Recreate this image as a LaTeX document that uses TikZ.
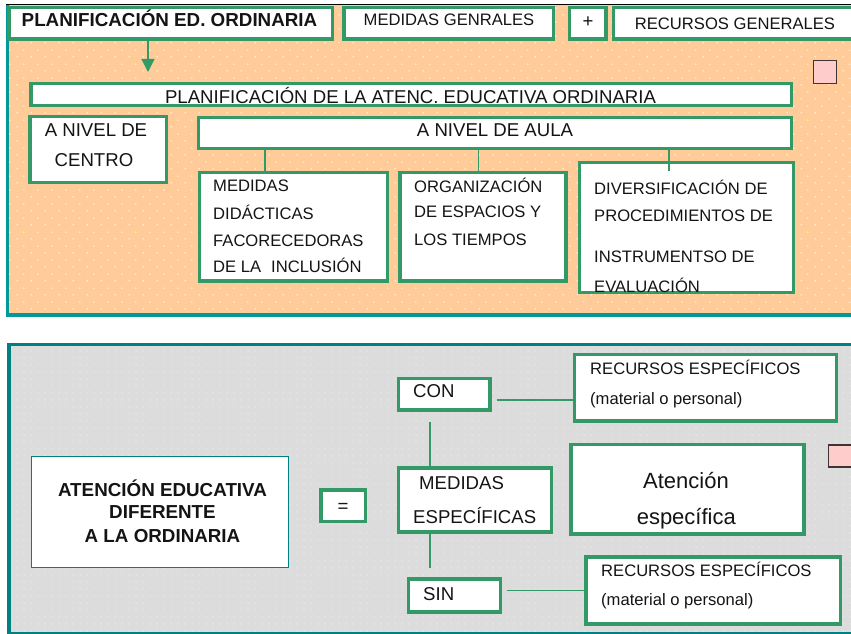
\documentclass[tikz,border=0pt]{standalone}
\usepackage{fontspec}
\setmainfont{Liberation Sans}
\usetikzlibrary{patterns.meta,arrows.meta,fit}
\definecolor{gr}{HTML}{339966}
\definecolor{tealA}{HTML}{009999}
\definecolor{tealB}{HTML}{008080}
\definecolor{orng}{HTML}{FFCC99}
\definecolor{dotO}{HTML}{FFF0E2}
\definecolor{gry}{HTML}{DCDCDC}
\definecolor{dotG}{HTML}{F2F2F2}
\definecolor{pnk}{HTML}{FFCCCC}
\definecolor{pbd}{HTML}{403333}
\definecolor{txc}{HTML}{141414}
\tikzdeclarepattern{
  name=odots,
  bounding box={(0pt,0pt) and (14pt,14pt)},
  tile size={(14pt,14pt)},
  code={
    \fill (3.5pt,3.5pt) circle (0.9pt);
    \fill (10.5pt,10.5pt) circle (0.9pt);
  }
}
\tikzdeclarepattern{
  name=gdots,
  bounding box={(0pt,0pt) and (7pt,7pt)},
  tile size={(7pt,7pt)},
  code={
    \fill (3.5pt,3.5pt) circle (0.7pt);
  }
}
\begin{document}
\begin{tikzpicture}[x=1pt,y=-1pt,
  gbox/.style={draw=gr, line width=3.5pt, fill=white, inner sep=0pt},
  tbox/.style={draw=tealB, line width=1.2pt, fill=white, inner sep=0pt},
  pbox/.style={draw=pbd, line width=1.5pt, fill=pnk, inner sep=0pt},
  conn/.style={draw=gr, line width=1.3pt},
  t/.style={font=\fontsize{16.6}{20}\selectfont, text height=12pt, text depth=0pt, inner sep=0pt, text=txc},
  tl/.style={t, anchor=west},
  tm/.style={t, font=\fontsize{18.6}{22}\selectfont},
  tml/.style={tm, anchor=west},
  tb/.style={t, font=\fontsize{18.8}{22}\selectfont\bfseries},
  tbig/.style={t, font=\fontsize{22}{26}\selectfont}
]
\useasboundingbox (0,0) rectangle (851,634);
\clip (0,0) rectangle (851,634);
\fill[white] (0,0) rectangle (851,634);
% ---------- top panel ----------
\fill[orng] (6,4.5) rectangle (851,317);
\fill[pattern=odots, pattern color=dotO] (6,4.5) rectangle (851,317);
\draw[tealA, line width=3pt] (7.5,4.5) -- (7.5,314.5);
\draw[tealA, line width=4.5pt] (6,314.8) -- (851,314.8);
\draw[black, line width=1.2pt] (6,4.5) -- (851,4.5);
% ---------- bottom panel ----------
\fill[gry] (7.3,342.7) rectangle (851,634);
\fill[pattern=gdots, pattern color=dotG] (7.3,342.7) rectangle (851,634);
\draw[tealB, line width=3pt] (7.3,344.2) -- (851,344.2);
\draw[tealB, line width=4pt] (9.3,342.7) -- (9.3,634);
\draw[tealB, line width=2pt] (7.3,632.8) -- (851,632.8);
% ---------- coordinates ----------
\coordinate (arrtip) at (148,72);
\coordinate (x1) at (265,0);
\coordinate (x2) at (478.3,0);
\coordinate (x3) at (669,0);
\coordinate (xv) at (430,0);
\coordinate (ycon) at (0,400);
\coordinate (ysin) at (0,590.7);
% ---------- top boxes ----------
\node[gbox, fit={(8.8,7.7) (332.5,38.8)}] (pla) {};
\node[gbox, fit={(344,7.7) (553.3,38.8)}] (med) {};
\node[gbox, fit={(569.4,7.7) (606,38.8)}] (plus) {};
\node[gbox, fit={(613.4,7.7) (853,38.8)}] (rg) {};
\node[gbox, fit={(31,83.5) (791.6,105.5)}] (atc) {};
\node[gbox, fit={(30,116.7) (166.6,182.6)}] (cen) {};
\node[gbox, fit={(198.4,117.7) (791.6,148.3)}] (aula) {};
\node[gbox, fit={(199.4,172.7) (387.6,281)}] (mdi) {};
\node[gbox, fit={(400,172.7) (566,281)}] (org) {};
\node[gbox, fit={(579.4,162.7) (793.3,292.6)}] (div) {};
\node[pbox, fit={(813.7,60.7) (836.3,83.3)}] (pk1) {};
% ---------- top connectors ----------
\draw[conn, -{Triangle[width=13pt,length=13pt]}] (pla.south -| arrtip) -- (arrtip);
\draw[conn] (aula.south -| x1) -- (mdi.north -| x1);
\draw[conn] (aula.south -| x2) -- (org.north -| x2);
\draw[conn, shorten >=-10pt] (aula.south -| x3) -- (div.north -| x3);
% ---------- top texts ----------
\node[tb] (tpla) at (169.5,21) {PLANIFICACIÓN ED. ORDINARIA};
\node[t] (tmed) at (449,19.5) {MEDIDAS GENRALES};
\node[tm] (tplus) at (588,22) {+};
\node[t] (trg) at (735,23.5) {RECURSOS GENERALES};
\node[tm] (tat) at (410.5,97) {PLANIFICACIÓN DE LA ATENC. EDUCATIVA ORDINARIA};
\node[tm] (tc1) at (96,130.5) {A NIVEL DE};
\node[tm] (tc2) at (94,160) {CENTRO};
\node[tm] (tau) at (495,130.5) {A NIVEL DE AULA};
\node[tl] (m1) at (213,185.5) {MEDIDAS};
\node[tl] (m2) at (213,213) {DIDÁCTICAS};
\node[tl] (m3) at (213,240.5) {FACORECEDORAS};
\node[tl] (m4) at (213,266.5) {DE LA\hspace{10pt}INCLUSIÓN};
\node[tl] (o1) at (414,186) {ORGANIZACIÓN};
\node[tl] (o2) at (414,211.5) {DE ESPACIOS Y};
\node[tl] (o3) at (414,239.5) {LOS TIEMPOS};
\node[tl] (d1) at (594,188.5) {DIVERSIFICACIÓN DE};
\node[tl] (d2) at (594,215) {PROCEDIMIENTOS DE};
\node[tl] (d3) at (594,256.5) {INSTRUMENTSO DE};
\node[tl] (d4) at (594,286.5) {EVALUACIÓN};
% ---------- bottom boxes ----------
\node[tbox, fit={(31.6,456.3) (288.4,567.7)}] (aed) {};
\node[gbox, fit={(321,490) (365.5,521.5)}] (eq) {};
\node[gbox, fit={(398.5,378.5) (490,410)}] (con) {};
\node[gbox, fit={(398.5,467.8) (551.5,532.2)}] (mes) {};
\node[gbox, fit={(408.5,579) (500.5,612.2)}] (sin) {};
\node[gbox, fit={(574.5,354.5) (836.5,421)}] (rec1) {};
\node[gbox, fit={(570.8,444.5) (804,534)}] (ae) {};
\node[gbox, fit={(585.8,556.8) (840.5,624.2)}] (rec2) {};
\node[pbox, fit={(828.5,445) (852,467)}] (pk2) {};
% ---------- bottom connectors ----------
\draw[conn, shorten <=10pt] (con.south -| xv) -- (mes.north -| xv);
\draw[conn, shorten >=9pt] (mes.south -| xv) -- (sin.north -| xv);
\draw[conn, shorten <=5pt] (con.east |- ycon) -- (rec1.west |- ycon);
\draw[conn, shorten <=4.5pt] (sin.east |- ysin) -- (rec2.west |- ysin);
% ---------- bottom texts ----------
\node[tb] (a1) at (162.5,490) {ATENCIÓN EDUCATIVA};
\node[tb] (a2) at (162.5,512.5) {DIFERENTE};
\node[tb] (a3) at (162.5,536.5) {A LA ORDINARIA};
\node[tm] (teq) at (343,506) {=};
\node[tml] (tcon) at (413,391) {CON};
\node[tml] (me1) at (419,483) {MEDIDAS};
\node[tml] (me2) at (413,517) {ESPECÍFICAS};
\node[tml] (tsin) at (423,594) {SIN};
\node[tl] (r1a) at (590,368.5) {RECURSOS ESPECÍFICOS};
\node[tl] (r1b) at (590,398) {(material o personal)};
\node[tl] (r2a) at (601,570) {RECURSOS ESPECÍFICOS};
\node[tl] (r2b) at (601,599) {(material o personal)};
\node[tbig] (ae1) at (686,482) {Atención};
\node[tbig] (ae2) at (686.3,518.5) {específica};
\end{tikzpicture}
\end{document}
